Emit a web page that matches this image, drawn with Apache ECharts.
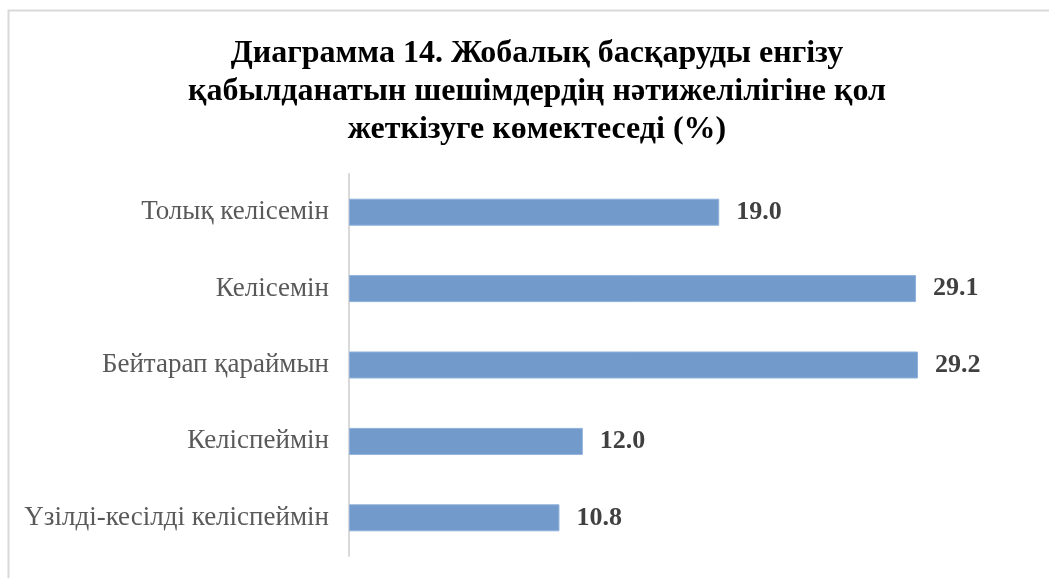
<!DOCTYPE html>
<html>
<head>
<meta charset="utf-8">
<script src="https://cdn.jsdelivr.net/npm/echarts@6/dist/echarts.min.js"></script>
<style>
  html, body { margin: 0; padding: 0; background: #fff; }
  #main { width: 1049px; height: 578px; }
</style>
</head>
<body>
<div id="main"></div>
<script>
// categories top to bottom
const categories = [
  "Толық келісемін",
  "Келісемін",
  "Бейтарап қараймын",
  "Келіспеймін",
  "Үзілді-кесілді келіспеймін"
];
const values = [19.0, 29.1, 29.2, 12.0, 10.8];
const titleText = "Диаграмма 14. Жобалық басқаруды енгізу\nқабылданатын шешімдердің нәтижелілігіне қол\nжеткізуге көмектеседі (%)";

const chart = echarts.init(document.getElementById("main"));

const option = {
  backgroundColor: "#fff",
  animation: false,
  graphic: [
    {
      type: "rect",
      shape: { x: 8.5, y: 10.5, width: 1100, height: 600 },
      style: { fill: "none", stroke: "#d9d9d9", lineWidth: 2 },
      silent: true
    }
  ],
  title: {
    text: titleText,
    left: 532,
    top: 30,
    textAlign: "center",
    textStyle: {
      fontFamily: "Liberation Serif",
      fontSize: 32,
      fontWeight: "bold",
      color: "#000",
      lineHeight: 38
    }
  },
  grid: {
    left: 349,
    top: 174,
    width: 682,
    height: 382,
    containLabel: false
  },
  xAxis: {
    type: "value",
    min: 0,
    max: 35,
    show: false
  },
  yAxis: {
    type: "category",
    data: categories,
    inverse: true,
    axisLine: { show: true, lineStyle: { color: "#d9d9d9", width: 2 } },
    axisTick: { show: false },
    axisLabel: {
      margin: 20,
      fontFamily: "Liberation Serif",
      fontSize: 27,
      color: "#595959"
    }
  },
  series: [
    {
      type: "bar",
      data: values,
      barWidth: 27,
      itemStyle: { color: "#729bcc", borderColor: "#8fb0da", borderWidth: 1 },
      label: {
        show: true,
        position: "right",
        distance: 17,
        formatter: (p) => p.value.toFixed(1),
        fontFamily: "Liberation Serif",
        fontSize: 26,
        fontWeight: "bold",
        color: "#404040"
      }
    }
  ]
};

option && chart.setOption(option);
</script>
</body>
</html>
